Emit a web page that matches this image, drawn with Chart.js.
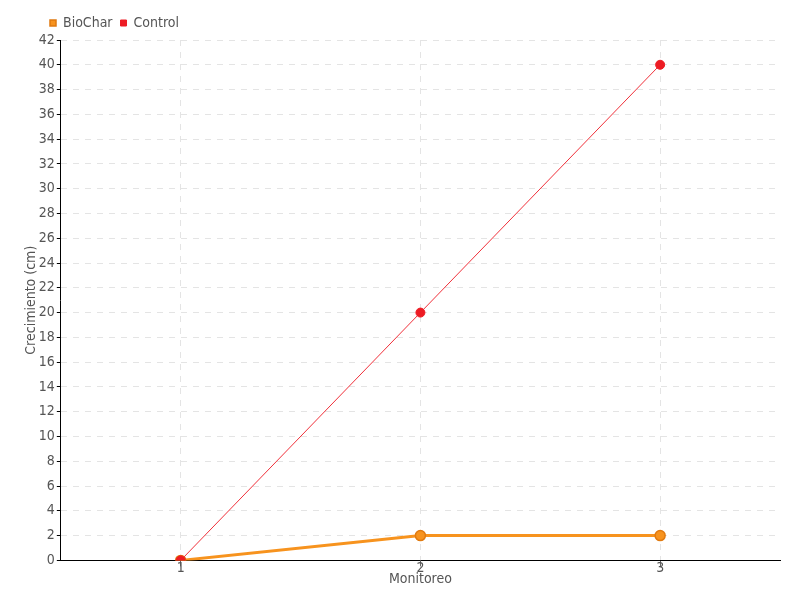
<!DOCTYPE html>
<html>
<head>
<meta charset="utf-8">
<script src="https://cdn.jsdelivr.net/npm/chart.js@4"></script>
<style>
  html, body { margin: 0; padding: 0; background: #fff; }
</style>
</head>
<body>
<canvas id="chart" width="800" height="600"></canvas>
<script>
// Chart data
const monitoreo = ['1', '2', '3'];
const biochar = [0, 2, 2];
const control = [0, 20, 40];

const fontFamily = '"DejaVu Sans Condensed", "Liberation Sans Narrow", sans-serif';
const textColor = '#555';

// shift the legend to the right, like the original
const legendShift = {
  id: 'legendShift',
  afterLayout(chart) {
    if (chart.legend) {
      chart.legend.left += 19;
      chart.legend.right += 19;
    }
  }
};

const ctx = document.getElementById('chart').getContext('2d');
new Chart(ctx, {
  type: 'line',
  data: {
    labels: monitoreo,
    datasets: [
      {
        label: 'BioChar',
        data: biochar,
        borderColor: '#f7931e',
        backgroundColor: '#f7931e',
        pointBorderColor: '#e07a10',
        pointBackgroundColor: '#f7931e',
        borderWidth: 3,
        pointRadius: 5,
        pointBorderWidth: 1.5,
        tension: 0,
        order: 1
      },
      {
        label: 'Control',
        data: control,
        borderColor: '#f0303a',
        backgroundColor: '#ed1c24',
        pointBorderColor: '#ed1c24',
        pointBackgroundColor: '#ed1c24',
        borderWidth: 1,
        pointRadius: 4.5,
        tension: 0,
        order: 0
      }
    ]
  },
  options: {
    responsive: false,
    animation: false,
    layout: { padding: { top: 8, right: 20, left: 23, bottom: 12 } },
    plugins: {
      legend: {
        align: 'start',
        labels: {
          usePointStyle: true,
          pointStyle: 'rect',
          boxWidth: 6,
          boxHeight: 6,
          padding: 8,
          color: textColor,
          font: { family: fontFamily, size: 14 },
          sort: (a, b) => a.datasetIndex - b.datasetIndex
        }
      },
      tooltip: { enabled: false }
    },
    scales: {
      x: {
        offset: true,
        grid: {
          offset: false,
          color: '#e4e4e4',
          tickColor: '#666',
          tickLength: 6
        },
        border: { color: '#000', width: 1, dash: [6, 6] },
        ticks: { color: textColor, font: { family: fontFamily, size: 14 }, padding: -6 },
        title: {
          display: true,
          text: 'Monitoreo',
          color: textColor,
          font: { family: fontFamily, size: 14 },
          padding: { top: 0, bottom: 0 }
        }
      },
      y: {
        min: 0,
        max: 42,
        ticks: {
          stepSize: 2,
          color: textColor,
          font: { family: fontFamily, size: 14 },
          padding: 2
        },
        grid: {
          color: '#e4e4e4',
          tickColor: '#000',
          tickLength: 4
        },
        border: { color: '#000', width: 1, dash: [6, 6] },
        title: {
          display: true,
          text: 'Crecimiento (cm)',
          color: textColor,
          font: { family: fontFamily, size: 14 },
          padding: { top: 0, bottom: -3 }
        }
      }
    }
  },
  plugins: [legendShift]
});
</script>
</body>
</html>
